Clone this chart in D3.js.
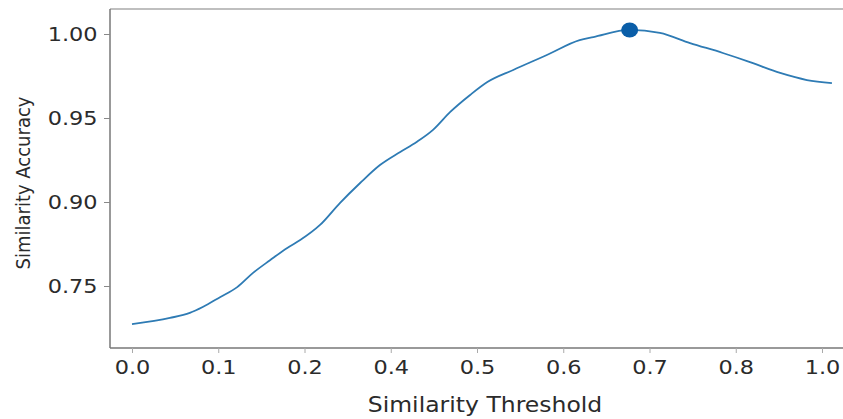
<!DOCTYPE html>
<html>
<head>
<meta charset="utf-8">
<script src="https://cdn.jsdelivr.net/npm/d3@7"></script>
<style>
  body { margin: 0; background: #fff; }
  text { font-family: "DejaVu Sans", sans-serif; fill: #2b2b2b; }
</style>
</head>
<body>
<svg id="chart"></svg>
<script>
// tick labels as printed on the axes (evenly spaced even where the values are not)
const xTicks = [0.0, 0.1, 0.2, 0.4, 0.5, 0.6, 0.7, 0.8, 1.0];
const yTicks = [0.75, 0.90, 0.95, 1.00];

// similarity threshold vs accuracy
const threshold = [0.0, 0.044, 0.067, 0.082, 0.102, 0.122, 0.140, 0.160, 0.180, 0.195,
  0.236, 0.282, 0.329, 0.375, 0.411, 0.430, 0.449, 0.469, 0.492, 0.512, 0.542, 0.581,
  0.619, 0.635, 0.677, 0.712, 0.747, 0.785, 0.833, 0.903, 0.965, 1.023];
const accuracy = [0.682, 0.693, 0.702, 0.7125, 0.730, 0.748, 0.773, 0.796, 0.818, 0.832,
  0.859, 0.898, 0.9113, 0.9220, 0.9298, 0.9357, 0.9429, 0.9536, 0.9637, 0.9714, 0.9786, 0.9875,
  0.9964, 0.9982, 1.0024, 1.0006, 0.9946, 0.9887, 0.9833, 0.9768, 0.9726, 0.9708];

// best point
const best = { threshold: 0.677, accuracy: 1.0024 };

const W = 843, H = 419
const plotLeft = 110, plotTop = 9, plotBottom = 348
const stretch = 1.12   // text in the picture is a bit wide

const svg = d3.select("#chart").attr("width", W).attr("height", H)

const x = d3.scaleLinear()
    .domain(xTicks)
    .range(xTicks.map((d, i) => 132 + i * 86.25))

const y = d3.scaleLinear()
    .domain(yTicks)
    .range(yTicks.map((d, i) => 286 - i * 84))

// frame
svg.append("line").attr("x1", plotLeft).attr("x2", W).attr("y1", plotTop).attr("y2", plotTop)
    .attr("stroke", "#aaa").attr("stroke-width", 1.5)
svg.append("line").attr("x1", plotLeft).attr("x2", plotLeft).attr("y1", plotTop).attr("y2", plotBottom)
    .attr("stroke", "#777").attr("stroke-width", 1.5)
svg.append("line").attr("x1", plotLeft).attr("x2", W).attr("y1", plotBottom).attr("y2", plotBottom)
    .attr("stroke", "#777").attr("stroke-width", 1.5)

const yAxis = svg.append("g")
    .attr("transform", `translate(${plotLeft},0)`)
    .call(d3.axisLeft(y).tickValues(yTicks).tickFormat(d3.format(".2f")).tickSize(6))
yAxis.select(".domain").remove()
yAxis.selectAll(".tick line").attr("stroke", "#888")
yAxis.selectAll(".tick text")
    .attr("x", -12.5 / stretch)
    .attr("transform", `scale(${stretch},1)`)
    .style("font-size", "20px")
    .attr("fill", "#2b2b2b")

const xAxis = svg.append("g")
    .attr("transform", `translate(0,${plotBottom})`)
    .call(d3.axisBottom(x).tickValues(xTicks).tickFormat(d3.format(".1f")).tickSize(5))
xAxis.select(".domain").remove()
xAxis.selectAll(".tick line").attr("stroke", "#aaa")
xAxis.selectAll(".tick text")
    .attr("y", 12)
    .attr("transform", `scale(${stretch},1)`)
    .style("font-size", "20px")
    .attr("fill", "#2b2b2b")

// axis titles
svg.append("text")
    .attr("transform", `translate(485,412) scale(${stretch},1)`)
    .attr("text-anchor", "middle")
    .style("font-size", "21px")
    .text("Similarity Threshold")

svg.append("text")
    .attr("transform", `translate(30,183) scale(${stretch},1) rotate(-90)`)
    .attr("text-anchor", "middle")
    .style("font-size", "18px")
    .text("Similarity Accuracy")

const pts = threshold.map((t, i) => ({ t, a: accuracy[i] }))

const line = d3.line()
    .x(d => x(d.t))
    .y(d => y(d.a))
    .curve(d3.curveMonotoneX)

svg.append("path")
    .datum(pts)
    .attr("fill", "none")
    .attr("stroke", "#2e7bb4")
    .attr("stroke-width", 1.8)
    .attr("d", line)

svg.append("ellipse")
    .attr("cx", x(best.threshold))
    .attr("cy", y(best.accuracy))
    .attr("rx", 8.5)
    .attr("ry", 7.5)
    .attr("fill", "#0a5ea8")
</script>
</body>
</html>
